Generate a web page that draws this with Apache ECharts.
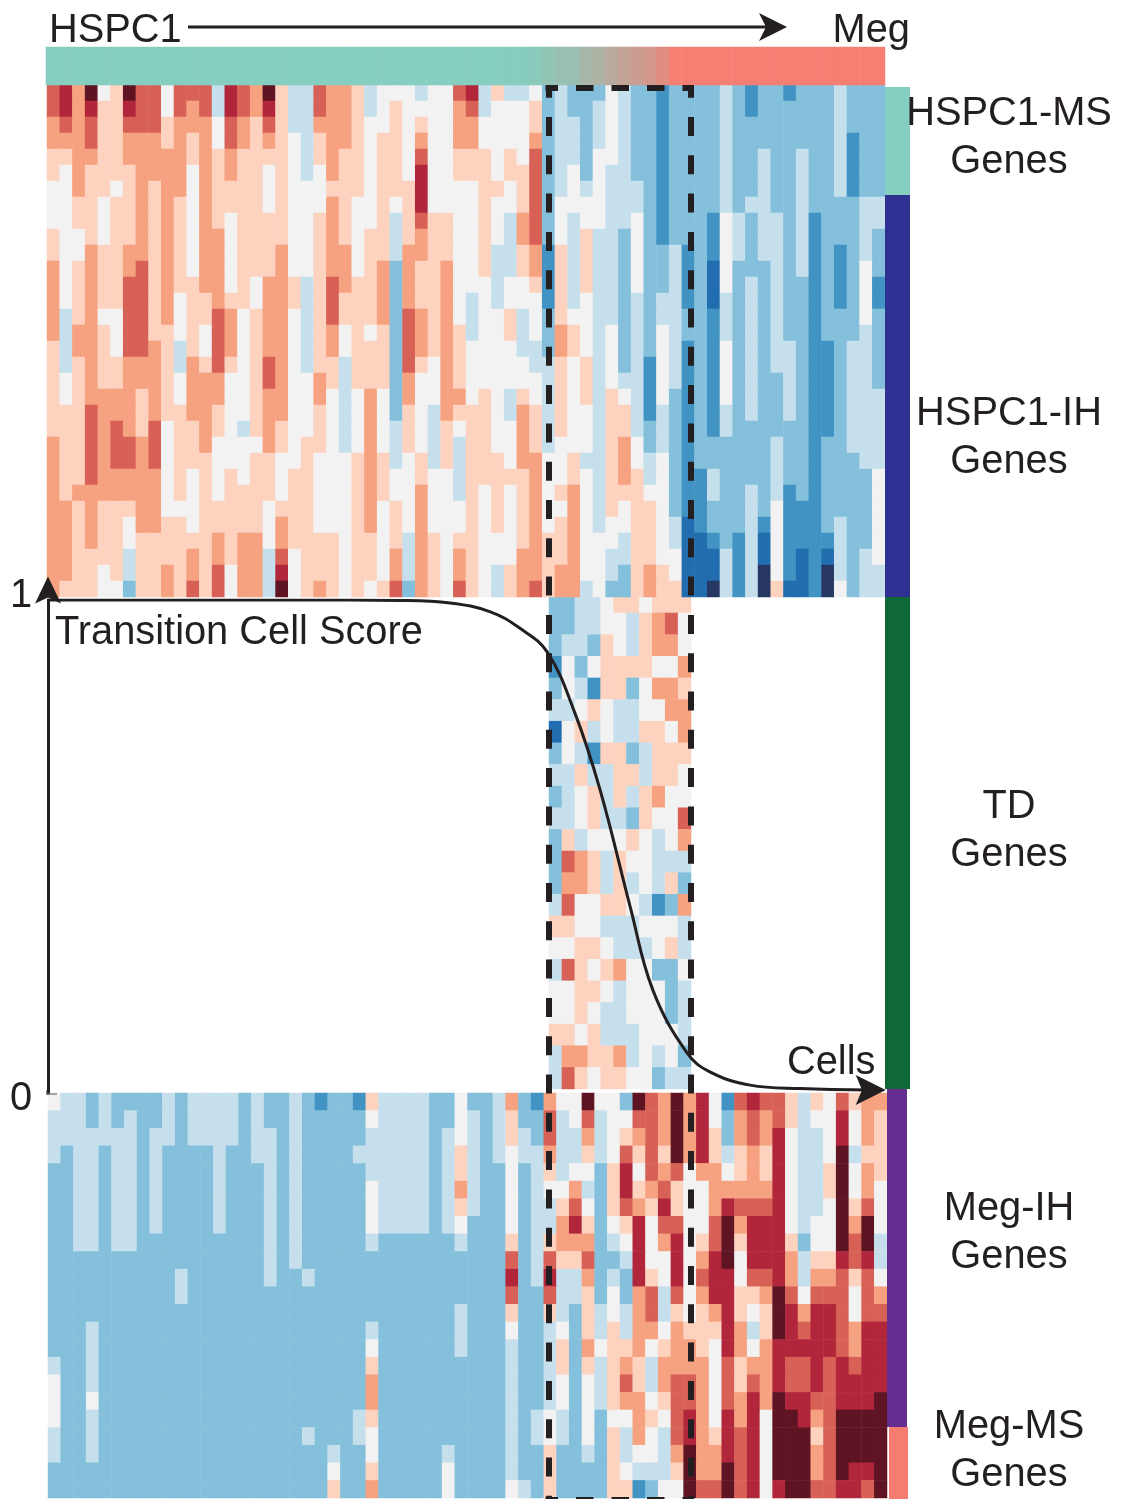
<!DOCTYPE html>
<html>
<head>
<meta charset="utf-8">
<style>html,body{margin:0;padding:0;background:#fff}#c{width:1121px;height:1499px}</style>
<script src="https://cdn.jsdelivr.net/npm/echarts@6/dist/echarts.min.js"></script>
</head>
<body>
<div id="c"></div>
<script>
// Expression levels: 0 (deep blue) .. 10 = 'A' (deep red)
const levelColors = ['#273763','#226DB0','#4193C3','#84C0DB','#C6DFEC','#F2F2F2','#FDD2BF','#F6A180','#D76156','#B1263A','#5E1422'];

// HSPC1 gene block (top): columns 0-22, 22-44, 44-65
const topLeft = ["897A56A8858884987A64487","89796698858784987964487","78786688867775876864477","77786677767675876765467","66776677777676766665467","65766667777576766565457","55766567677576666565556","55665667676576666565557","55665667676576566665567","65565667676577566665567","65576677676577566675567","75676678676577566675567","75676688676677565776468","75676688675667665776468","74675588675668756775468","74776588665658756775467","64776588764658756775467","64676677764768656875466","65676677765777556875576","65677776765777556775575","66687776766776556775565","66687876856676546765565","76687887856675555765665","76687887856665556655655","76687777756565656656655","76777777756565666656655","77676667755566666566655","77676657766566666576655","77676656666667677576666","77666646666767677485666","77665646676768577495666","766655366768685774A5676"];
const topMid = ["77645554558946445343335","77645655557845556343345","77655656557755556344345","77656657557755557344345","76656658556665658344355","76656659556665668345354","66656669555566568345454","76556569555565568355554","76556468665565478354554","76566467665565478354644","77566477665564467264644","77567376675564467264644","87667376675554556264644","86667376675454555264544","86667387675455645365544","75656387676455645376545","75666387676555544376545","64666386576555554465645","64666375576555555465645","54575375577565465465646","54575365476665476465546","54575465465665576465546","54575465464665576455546","55676456464666577556446","55676556554666667556546","55676557554656567567546","55675657555656567557546","55675657555656567567545","65665647656655567667555","65665747657655577667554","65665747657654677677554","65656837658654678677453"];
const topRight = ["5433233334323323334333","5433233334323333334333","5433233334333333334333","5433233334333333334233","5433233334334334334233","4433233334334334334233","4443233334334334334233","4443233334344334333344","4453233325434434233344","4353233325434434233343","4353342325434434232343","4353342315333434232353","4353342315343433232352","4343442314343433232352","4343443324343433233353","5343543324343433233343","5343542325343443223443","5342542325343443223443","5442542325343343223443","6542532325343343223444","6642432324343343223444","6643432324333333223444","6753432333333433233444","6754532333333433233344","6764532243333433233335","6665532243343423233335","6566532233343522233335","5566541233342522234335","5466541123241522224335","4466551114241521214345","4367651114240521204344","3367661104240611205344"];

// Transition genes (middle), only the dashed-box columns
const midCells = ["33445665666","33445546785","34436546775","25356666557","35426635776","44565445577","15645446657","35426634666","44644664665","34564646755","44564436558","36455565457","38764655444","37764645463","48556654237","66554445554","55665444564","48656755335","55665455534","55654455534","66564445554","47766745453","48656655344"];

// Meg gene block (bottom): columns 0-21, 22-44, 44-65
const lowLeft = ["5443433334344443433432","4443434334344443433433","4444444344344443443433","4344344343333433443433","3344344343333433343433","3344344343333433343433","3344344343333433343433","3344344343333433343433","3344344333333333343433","3333333333333333343433","3333333333433333343343","3333333333433333333333","3333333333333333333333","3334333333333333333333","3334333333333333333333","4334333333333333333333","5334333333333333333333","5335333333333333333333","5334333333333333333333","4334333333333333333343","4334333333333333333333","3333333333333333333333","3333333333333333333333"];
const lowMid = ["33264444335334732755A55","33354444335434633845845","33344444345434643844745","33444444346434544744645","33344444346433534645536","33354444347433534557436","33354444346433534468536","33354444345333534479635","33343333334333634677734","33333333333333834866833","33333333333333934944734","33333333333333833844635","33333333334333633643645","33343333334333533453646","33353333334333433463756","33363333333333433463646","33373333333333433453546","33373333333333433453546","33463333333333434543535","33453333333333434543536","43353333343333433633436","53363333353333433633336","63373333353333543633336"];
const lowRight = ["53A87A7952898864658677","55887A7953787864559576","56787A7963787954459576","58686A796467695445A466","695878577567695446A576","696786557777795446A575","687696557988895445A685","569588558A79995455A7A5","459579568A69996355A8A4","349559579A599974669894","4396595899588974778685","5378485799667A85888587","5478465679656A97998588","6477576669746A98998799","6675677659757999998799","6764777758677988989899","6864788758687988989999","6775688758797A9988999A","5576589759795AA978AAAA","6475489769895AAA68AAAA","645547A779895AAA78AAAA","654446A77A895AAA78A99A","662355A88A8959AA88998A"];

// Colour strip above the heatmap: 0 = HSPC1 colour, 1 = Meg colour (columns from 36 on)
const stripTail = [0.01,0.02,0.04,0.12,0.17,0.19,0.3,0.36,0.45,0.55,0.62,0.7,0.82,1];
const stripColors = ['#85CEC0','#F67F74'];

// Side annotation blocks (height of each gene group)
const blockNames = ['HSPC1-MS','HSPC1-IH','TD','Meg-IH','Meg-MS'];
const blockSizes = [108,402,492,338,72];
const blockColors = ['#85CEC0','#2E3192','#0E6838','#662D91','#F47C70'];

// Transition Cell Score curve
const cellPosition = [0,0.302,0.421,0.481,0.529,0.564,0.597,0.630,0.660,0.696,0.723,0.764,0.791,0.839,0.899,0.983];
const cellScore = [1,1,0.999,0.994,0.976,0.943,0.894,0.770,0.614,0.376,0.207,0.079,0.041,0.014,0.007,0.004];

const toCells = rows => {
  const out = [];
  rows.forEach((r, y) => { for (let x = 0; x < r.length; x++) out.push([x, y, parseInt(r[x], 16)]); });
  return out;
};
const topRows = topLeft.map((l, i) => l + topMid[i].slice(1, 22) + topRight[i]);
const lowRows = lowLeft.map((l, i) => l + lowMid[i] + lowRight[i].slice(1));
const idx = n => Array.from({length: n}, (_, i) => i);

const ink = '#231F20';
const font = '"Liberation Sans",Arial,sans-serif';
const fs = 39.8;

const hiddenCat = (n, gi, inverse) => ({type:'category', gridIndex:gi, data:idx(n), show:false, inverse:!!inverse, boundaryGap:true});
const heat = (gi, cells, z) => ({type:'heatmap', xAxisIndex:gi, yAxisIndex:gi, data:cells, z, progressive:0, silent:true, itemStyle:{borderWidth:0}, emphasis:{disabled:true}});

const grids = [
  {left:47, top:85, width:838, height:512},
  {left:549, top:591.35, width:142, height:497.65},
  {left:48, top:1093, width:839, height:405},
  {left:46, top:47, width:839, height:38},
  {left:47, top:600, width:838, height:492},
  {left:885, top:87, width:25, height:1002},
  {left:887, top:1089, width:20, height:338},
  {left:889, top:1427, width:19, height:72}
];

const xAxes = [
  hiddenCat(66,0), hiddenCat(11,1), hiddenCat(66,2), hiddenCat(66,3),
  {type:'value', gridIndex:4, min:0, max:1, show:false},
  hiddenCat(1,5), hiddenCat(1,6), hiddenCat(1,7)
];
const yAxes = [
  hiddenCat(32,0,true), hiddenCat(23,1,true), hiddenCat(23,2,true), hiddenCat(1,3),
  {type:'value', gridIndex:4, min:0, max:1, z:12, offset:-1, splitLine:{show:false}, axisTick:{show:false}, axisLabel:{show:false},
   axisLine:{show:true, onZero:false, lineStyle:{color:ink, width:3},
     symbol:['none','path://M0,-14 L13,13 L0,7 L-13,13 Z'], symbolSize:[27,27], symbolOffset:[0,10]}},
  {type:'value', gridIndex:5, min:0, max:1002, inverse:true, show:false},
  {type:'value', gridIndex:6, min:0, max:338, inverse:true, show:false},
  {type:'value', gridIndex:7, min:0, max:72, inverse:true, show:false}
];

const stripCells = idx(66).map(i => [i, 0, i < 36 ? 0 : (i - 36 < stripTail.length ? stripTail[i - 36] : 1)]);
const sideBar = (gi, size, color) => ({type:'bar', stack:'s'+gi, xAxisIndex:gi, yAxisIndex:gi, data:[size], barWidth:'100%', itemStyle:{color}, silent:true, z:4});

const series = [
  heat(0, toCells(topRows), 3),
  heat(1, toCells(midCells), 2),
  heat(2, toCells(lowRows), 3),
  heat(3, stripCells, 3),
  {type:'line', xAxisIndex:4, yAxisIndex:4, smooth:0.4, z:8, silent:true,
   lineStyle:{color:ink, width:3}, symbol:'none', showSymbol:true, showAllSymbol:true,
   data: cellPosition.map((p, i) => i === cellPosition.length - 1
     ? {value:[p, cellScore[i]], symbol:'path://M0,-15 L14,14 L0,8 L-14,14 Z', symbolSize:[30,30], symbolRotate:-90, itemStyle:{color:ink}}
     : {value:[p, cellScore[i]], symbol:'none'})},
  sideBar(5, blockSizes[0], blockColors[0]),
  sideBar(5, blockSizes[1], blockColors[1]),
  sideBar(5, blockSizes[2], blockColors[2]),
  sideBar(6, blockSizes[3], blockColors[3]),
  sideBar(7, blockSizes[4], blockColors[4])
];

const txt = (t, x, y, align) => ({type:'text', z:20, x, y, silent:true,
  style:{text:t, fill:ink, font:`${fs}px ${font}`, textAlign:align||'center', textVerticalAlign:'middle'}});
const dash = (x1,y1,x2,y2,len,gap,off) => ({type:'line', z:15, silent:true,
  shape:{x1,y1,x2,y2}, style:{stroke:ink, lineWidth:6, lineDash:[len,gap], lineDashOffset:off, lineCap:'butt'}});

const labelY = [[114.5,162.5],[414.5,462.5],[807.5,855.5],[1209.5,1257.5],[1427.5,1475.5]];
const sideLabels = [];
blockNames.forEach((n, i) => {
  sideLabels.push(txt(n, 1009, labelY[i][0]));
  sideLabels.push(txt('Genes', 1009, labelY[i][1]));
});

const graphics = [
  dash(549,85,549,1499,19,19.3,6.3),
  dash(691,85,691,1499,19,19.3,6.3),
  dash(545.5,88,694,88,17.5,18,5),
  dash(545.5,1500,694,1500,17.5,18,5),
  {type:'line', z:9, silent:true, shape:{x1:188,y1:27,x2:770,y2:27}, style:{stroke:ink, lineWidth:3}},
  {type:'polygon', z:9, silent:true, shape:{points:[[787,27],[759,13],[766,27],[759,41]]}, style:{fill:ink}},
  {type:'line', z:9, silent:true, shape:{x1:48,y1:1090,x2:48,y2:1095}, style:{stroke:ink, lineWidth:3}},
  {type:'line', z:9, silent:true, shape:{x1:47,y1:1094,x2:57,y2:1094}, style:{stroke:'#8a8a8a', lineWidth:1.5}},
  txt('HSPC1', 49, 31, 'left'),
  txt('Meg', 910, 31.5, 'right'),
  txt('Transition Cell Score', 55, 633, 'left'),
  txt('1', 10, 596, 'left'),
  txt('0', 10, 1099, 'left'),
  txt('Cells', 787, 1063, 'left'),
  ...sideLabels
];

const chart = echarts.init(document.getElementById('c'), null, {renderer:'canvas', width:1121, height:1499});
chart.setOption({
  animation:false,
  backgroundColor:'#fff',
  grid:grids, xAxis:xAxes, yAxis:yAxes,
  visualMap:[
    {type:'continuous', show:false, min:0, max:10, seriesIndex:[0,1,2], inRange:{color:levelColors}},
    {type:'continuous', show:false, min:0, max:1, seriesIndex:[3], inRange:{color:stripColors}}
  ],
  series,
  graphic:{elements:graphics}
});
</script>
</body>
</html>
